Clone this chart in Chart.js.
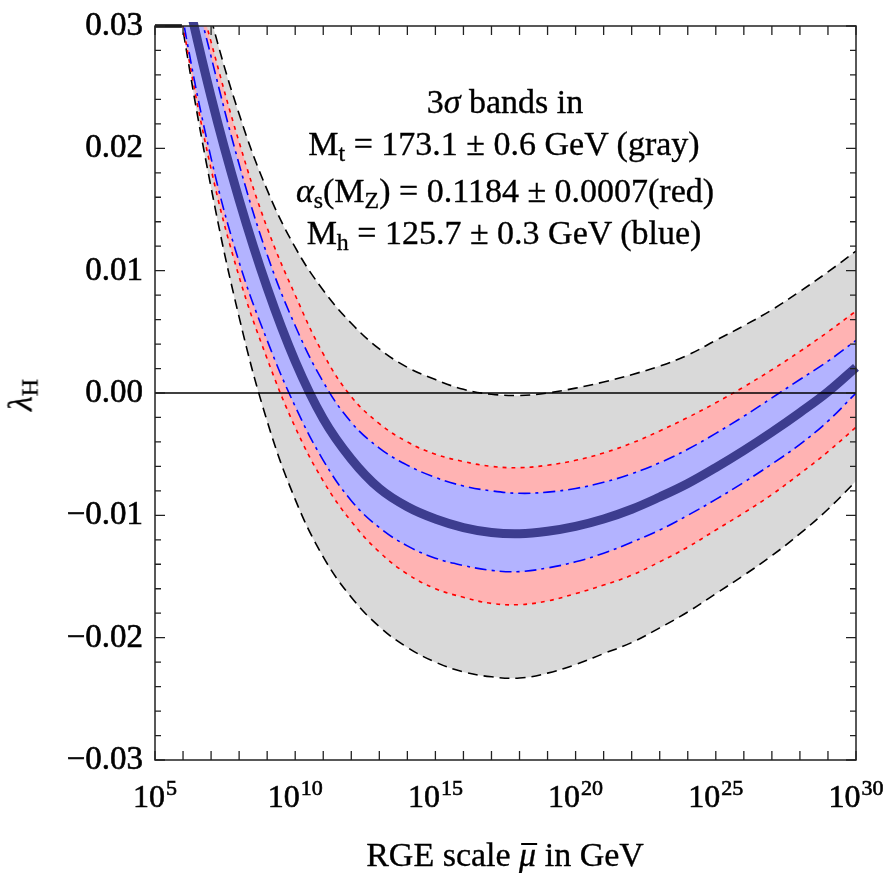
<!DOCTYPE html>
<html>
<head>
<meta charset="utf-8">
<script src="https://cdn.jsdelivr.net/npm/chart.js@4.4.1/dist/chart.umd.min.js"></script>
<style>
  html, body { margin: 0; padding: 0; background: #fff; }
  #wrap { position: relative; width: 887px; height: 873px; overflow: hidden; }
  #c { position: absolute; left: 0; top: 0; }
  .txt {
    position: absolute;
    font-family: "Liberation Serif", "Times New Roman", "DejaVu Serif", serif;
    font-size: 34px;
    line-height: 34px;
    color: #000;
    white-space: nowrap;
    -webkit-text-stroke: 0.35px #000;
  }
  .center { transform: translateX(-50%); }
  .sub { position: relative; font-size: 0.7em; top: 0.25em; }
  .bar { position: relative; display: inline-block; }
  .bar::after {
    content: ""; position: absolute; left: 2px; right: -1px; top: 5px;
    border-top: 2px solid #000;
  }
</style>
</head>
<body>
<div id="wrap">
  <canvas id="c" width="887" height="873"></canvas>

  <div class="txt center" style="left:505px; top:85px;">3<i>σ</i> bands in</div>
  <div class="txt center" style="left:504px; top:127px;">M<span class="sub">t</span> = 173.1 ± 0.6 GeV (gray)</div>
  <div class="txt center" style="left:505px; top:174px;"><i>α</i><span class="sub">s</span>(M<span class="sub">Z</span>) = 0.1184 ± 0.0007(red)</div>
  <div class="txt center" style="left:504px; top:216px;">M<span class="sub">h</span> = 125.7 ± 0.3 GeV (blue)</div>

  <div class="txt center" style="left:505px; top:838px;">RGE scale <span class="bar"><i>μ</i></span> in GeV</div>
  <div class="txt" style="left:22px; top:395px; transform: translate(-50%,-50%) rotate(-90deg);"><i>λ</i><span class="sub">H</span></div>
</div>

<script>
// log10 of the renormalisation scale in GeV
const logMu = [5, 6, 7, 8, 9, 10, 11, 12, 13, 14, 15, 16, 17, 18, 19, 20, 21, 22, 23, 24, 25, 26, 27, 28, 29, 30];

// central running of the Higgs quartic
const lambdaCentral = [0.0470, 0.0342, 0.0242, 0.0158, 0.0086, 0.0026, -0.0021, -0.0054, -0.0078, -0.0093,
  -0.0103, -0.0110, -0.0114, -0.0115, -0.0113, -0.0109, -0.0103, -0.0095, -0.0085, -0.0074,
  -0.0061, -0.0047, -0.0032, -0.0016, 0.0001, 0.0021];

// 3 sigma band from the top mass (gray)
const topBandUpper = [0.0510, 0.0400, 0.0306, 0.0228, 0.0166, 0.0119, 0.0084, 0.0057, 0.0036, 0.0021,
  0.0011, 0.0003, -0.0001, -0.0002, 0.0000, 0.0004, 0.0009, 0.0015, 0.0022, 0.0031,
  0.0043, 0.0055, 0.0068, 0.0083, 0.0099, 0.0116];
const topBandLower = [0.0450, 0.0297, 0.0168, 0.0062, -0.0023, -0.0087, -0.0134, -0.0167, -0.0191, -0.0208,
  -0.0220, -0.0228, -0.0232, -0.0233, -0.0229, -0.0222, -0.0213, -0.0204, -0.0192, -0.0179,
  -0.0164, -0.0149, -0.0133, -0.0115, -0.0095, -0.0072];

// 3 sigma band from alpha_s (red)
const alphaBandUpper = [0.0490, 0.0375, 0.0287, 0.0205, 0.0135, 0.0080, 0.0032, -0.0003, -0.0025, -0.0040,
  -0.0050, -0.0056, -0.0060, -0.0061, -0.0059, -0.0055, -0.0049, -0.0041, -0.0031, -0.0020,
  -0.0008, 0.0005, 0.0019, 0.0034, 0.0050, 0.0067];
const alphaBandLower = [0.0440, 0.0300, 0.0183, 0.0095, 0.0028, -0.0028, -0.0072, -0.0105, -0.0130, -0.0148,
  -0.0160, -0.0167, -0.0172, -0.0173, -0.0170, -0.0164, -0.0157, -0.0149, -0.0138, -0.0126,
  -0.0112, -0.0098, -0.0083, -0.0066, -0.0048, -0.0028];

// 3 sigma band from the Higgs mass (blue)
const higgsBandUpper = [0.0490, 0.0370, 0.0275, 0.0187, 0.0113, 0.0055, 0.0009, -0.0024, -0.0045, -0.0059,
  -0.0069, -0.0076, -0.0080, -0.0082, -0.0081, -0.0078, -0.0073, -0.0066, -0.0057, -0.0046,
  -0.0033, -0.0019, -0.0004, 0.0011, 0.0026, 0.0043];
const higgsBandLower = [0.0440, 0.0305, 0.0192, 0.0107, 0.0043, -0.0011, -0.0055, -0.0088, -0.0110, -0.0125,
  -0.0135, -0.0141, -0.0145, -0.0146, -0.0143, -0.0138, -0.0131, -0.0122, -0.0112, -0.0100,
  -0.0087, -0.0073, -0.0058, -0.0042, -0.0023, 0.0000];

// lower gray bound pinned to the top edge where it leaves the range
const edgeX = [5, 5.96];
const edgeY = [0.03, 0.03];

// horizontal reference line
const zeroX = [5, 30];
const zeroY = [0, 0];

// axis ranges and labels
const xRange = [5, 30];
const yRange = [-0.03, 0.03];
const xTickExponents = [5, 10, 15, 20, 25, 30];
const yTickValues = [-0.03, -0.02, -0.01, 0.00, 0.01, 0.02, 0.03];
const yTickLabels = ['\u22120.03', '\u22120.02', '\u22120.01', '0.00', '0.01', '0.02', '0.03'];

const pts = (xs, ys) => xs.map((v, i) => ({ x: v, y: ys[i] }));
const SERIF = '"Liberation Serif", "Times New Roman", "DejaVu Serif", serif';

const lineBase = {
  pointRadius: 0,
  borderCapStyle: 'butt',
  tension: 0.4,
  fill: false
};

const datasets = [
  { ...lineBase, label: 'zero', data: pts(zeroX, zeroY), borderColor: '#000', borderWidth: 1.5, order: 0 },                    // 0
  { ...lineBase, label: 'edge', data: pts(edgeX, edgeY), borderColor: '#000', borderWidth: 3.5, order: 0,
    clip: { left: 0, top: 2, right: 0, bottom: 0 } },                                                                           // 1
  { ...lineBase, label: 'central', data: pts(logMu, lambdaCentral), borderColor: '#3d3d8f', borderWidth: 9, order: 1,
    clip: { left: 0, top: 4, right: 4, bottom: 0 } },                                                                           // 2
  { ...lineBase, label: 'Mh upper', data: pts(logMu, higgsBandUpper), borderColor: '#0000ff', borderWidth: 1.6,
    borderDash: [12, 5, 3, 5], order: 2 },                                                                                      // 3
  { ...lineBase, label: 'Mh lower', data: pts(logMu, higgsBandLower), borderColor: '#0000ff', borderWidth: 1.6,
    borderDash: [12, 5, 3, 5], order: 3, fill: 3, backgroundColor: '#b3b3ff' },                                                 // 4
  { ...lineBase, label: 'alpha upper', data: pts(logMu, alphaBandUpper), borderColor: '#ff0000', borderWidth: 1.6,
    borderDash: [4, 5], order: 4 },                                                                                             // 5
  { ...lineBase, label: 'alpha lower', data: pts(logMu, alphaBandLower), borderColor: '#ff0000', borderWidth: 1.6,
    borderDash: [4, 5], order: 5, fill: 5, backgroundColor: '#ffb3b3' },                                                        // 6
  { ...lineBase, label: 'Mt upper', data: pts(logMu, topBandUpper), borderColor: '#000000', borderWidth: 1.6,
    borderDash: [10, 6], order: 6 },                                                                                            // 7
  { ...lineBase, label: 'Mt lower', data: pts(logMu, topBandLower), borderColor: '#000000', borderWidth: 1.6,
    borderDash: [10, 6], order: 7, fill: 7, backgroundColor: '#d9d9d9' }                                                        // 8
];

// frame, inward ticks on all four sides, and tick labels
const frameTicks = {
  id: 'frameTicks',
  afterDatasetsDraw(chart) {
    const { ctx, chartArea: a, scales: { x, y } } = chart;
    ctx.save();
    ctx.strokeStyle = '#222';
    ctx.lineWidth = 1.3;
    ctx.beginPath();
    x.ticks.forEach(t => {
      const px = x.getPixelForValue(t.value);
      ctx.moveTo(px, a.bottom); ctx.lineTo(px, a.bottom - 9);
      ctx.moveTo(px, a.top); ctx.lineTo(px, a.top + 9);
    });
    y.ticks.forEach(t => {
      const py = y.getPixelForValue(t.value);
      const major = Math.abs(t.value * 100 - Math.round(t.value * 100)) < 1e-6;
      const len = major ? 10 : 6;
      ctx.moveTo(a.left, py); ctx.lineTo(a.left + len, py);
      ctx.moveTo(a.right, py); ctx.lineTo(a.right - len, py);
    });
    ctx.stroke();
    ctx.lineWidth = 1.5;
    ctx.strokeRect(a.left, a.top, a.right - a.left, a.bottom - a.top);

    ctx.fillStyle = '#000';
    ctx.strokeStyle = '#000';
    ctx.lineWidth = 0.6;
    ctx.textBaseline = 'alphabetic';
    const label = (s, px, py) => { ctx.fillText(s, px, py); ctx.strokeText(s, px, py); };
    // y labels
    ctx.font = '33px ' + SERIF;
    ctx.textAlign = 'right';
    yTickValues.forEach((v, i) => {
      label(yTickLabels[i], a.left - 12, y.getPixelForValue(v) + 9);
    });
    // x labels: powers of ten
    ctx.textAlign = 'left';
    xTickExponents.forEach(e => {
      const px = x.getPixelForValue(e);
      ctx.font = '32px ' + SERIF;
      const w1 = ctx.measureText('10').width;
      ctx.font = '22px ' + SERIF;
      const w2 = ctx.measureText(String(e)).width;
      const start = px - (w1 + 1 + w2) / 2;
      ctx.font = '32px ' + SERIF;
      label('10', start, a.bottom + 47);
      ctx.font = '22px ' + SERIF;
      label(String(e), start + w1 + 1, a.bottom + 35);
    });
    ctx.restore();
  }
};

new Chart(document.getElementById('c'), {
  type: 'line',
  data: { datasets },
  options: {
    responsive: false,
    animation: false,
    devicePixelRatio: 1,
    events: [],
    layout: { padding: { left: 0, top: 26, right: 31, bottom: 0 } },
    plugins: { legend: { display: false }, tooltip: { enabled: false } },
    scales: {
      x: {
        type: 'linear', min: xRange[0], max: xRange[1],
        ticks: { display: false, stepSize: 1, maxTicksLimit: 1000 },
        grid: { display: false }, border: { display: false },
        afterFit(s) { s.height = 113; }
      },
      y: {
        type: 'linear', min: yRange[0], max: yRange[1],
        ticks: { display: false, stepSize: 0.002, maxTicksLimit: 1000 },
        grid: { display: false }, border: { display: false },
        afterFit(s) { s.width = 155; }
      }
    }
  },
  plugins: [frameTicks]
});
</script>
</body>
</html>
